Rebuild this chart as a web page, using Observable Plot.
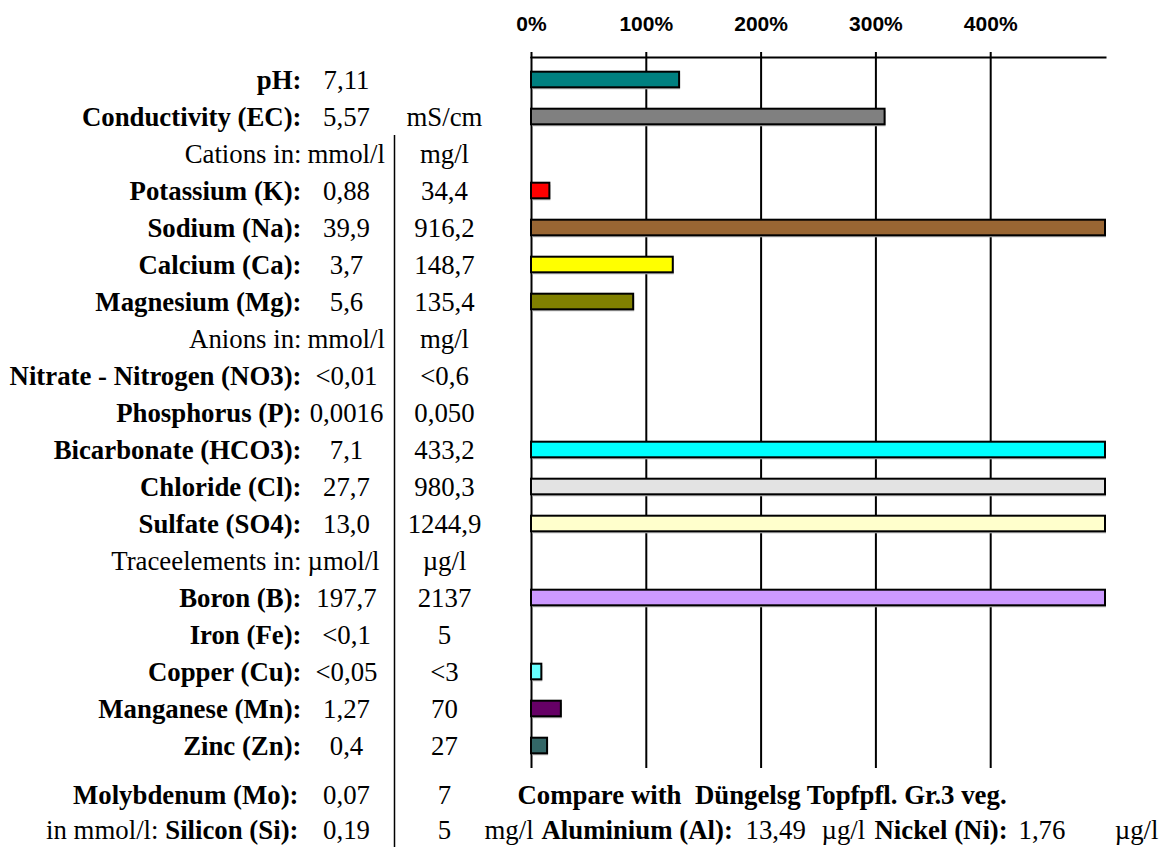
<!DOCTYPE html>
<html>
<head>
<meta charset="utf-8">
<script src="https://cdn.jsdelivr.net/npm/d3@7"></script>
<script src="https://cdn.jsdelivr.net/npm/@observablehq/plot@0.6"></script>
<style>
  html, body { margin: 0; padding: 0; background: #fff; }
  #chart svg { display: block; }
</style>
</head>
<body>
<div id="chart"></div>
<script>
// ---- data ----
const labels = ["pH:", "Conductivity (EC):", "Cations in:", "Potassium (K):", "Sodium (Na):", "Calcium (Ca):", "Magnesium (Mg):", "Anions in:", "Nitrate - Nitrogen (NO3):", "Phosphorus (P):", "Bicarbonate (HCO3):", "Chloride (Cl):", "Sulfate (SO4):", "Traceelements in:", "Boron (B):", "Iron (Fe):", "Copper (Cu):", "Manganese (Mn):", "Zinc (Zn):"];
const isHeader = [false, false, true, false, false, false, false, true, false, false, false, false, false, true, false, false, false, false, false];
const molarValues = ["7,11", "5,57", "mmol/l", "0,88", "39,9", "3,7", "5,6", "mmol/l", "<0,01", "0,0016", "7,1", "27,7", "13,0", "µmol/l", "197,7", "<0,1", "<0,05", "1,27", "0,4"];
const massValues = ["", "mS/cm", "mg/l", "34,4", "916,2", "148,7", "135,4", "mg/l", "<0,6", "0,050", "433,2", "980,3", "1244,9", "µg/l", "2137", "5", "<3", "70", "27"];
// percent of the reference solution (bars beyond the axis end are shown at 500 %)
const percentOfTarget = [129, 308, null, 16, 500, 123.5, 89, null, null, null, 500, 500, 500, null, 500, null, 9, 26, 14];
const barColors = ["#008080", "#808080", null, "#FF0000", "#996633", "#FFFF00", "#808000", null, null, null, "#00FFFF", "#E3E3E3", "#FFFFCC", null, "#CC99FF", null, "#66FFFF", "#660066", "#336666"];
const tickValues = [0, 100, 200, 300, 400];

const footRow1 = {label: "Molybdenum (Mo):", molar: "0,07", mass: "7", note: "Compare with  Düngelsg Topfpfl. Gr.3 veg."};
const footRow2 = {prefix: "in mmol/l:", label: "Silicon (Si):", molar: "0,19", mass: "5", unit: "mg/l",
                  alLabel: "Aluminium (Al):", alValue: "13,49", alUnit: "µg/l",
                  niLabel: "Nickel (Ni):", niValue: "1,76", niUnit: "µg/l"};

// ---- build table ----
const rows = labels.map((label, i) => ({
  label, header: isHeader[i], molar: molarValues[i], mass: massValues[i],
  pct: percentOfTarget[i], color: barColors[i]
}));

const serif = "'Liberation Serif', 'Times New Roman', Times, serif";
const sans = "'Liberation Sans', Arial, Helvetica, sans-serif";
const FS = 26.8;

const items = rows.filter(d => !d.header);
const headers = rows.filter(d => d.header);
const bars = rows.filter(d => d.pct != null);

const txt = (data, o) => Plot.text(data, {fontFamily: serif, fontSize: FS, fill: "black", ...o});
const foot = (text, o) => Plot.text([text], {text: d => d, frameAnchor: "bottom-left", fontFamily: serif, fontSize: FS, fill: "black", ...o});

const chart = Plot.plot({
  width: 1160,
  height: 850,
  marginLeft: 531,
  marginRight: 55,
  marginTop: 57,
  marginBottom: 82,
  x: {domain: [0, 500], axis: null},
  y: {domain: labels, axis: null, padding: 0},
  color: {type: "identity"},
  style: {background: "white", overflow: "visible"},
  marks: [
    // grid
    Plot.ruleX(tickValues, {stroke: "black", strokeWidth: 2}),
    Plot.frame({anchor: "top", stroke: "black", strokeWidth: 2}),
    Plot.axisX(tickValues, {anchor: "top", tickSize: 6, tickPadding: 21, strokeWidth: 2,
      tickFormat: d => d + "%", fontSize: 21, fontWeight: "bold", fontFamily: sans, label: null}),
    // bar shadows and bars
    Plot.barX(bars, {x: "pct", y: "label", fill: "#b8b8b8", dx: 1, dy: 2,
      insetTop: 10.7, insetBottom: 10.7}),
    Plot.barX(bars, {x: "pct", y: "label", fill: "color", stroke: "black", strokeWidth: 2,
      insetTop: 10.7, insetBottom: 10.7}),
    // column separator
    Plot.ruleX([0], {y1: () => "Cations in:", y2: () => "Zinc (Zn):", dx: -137, insetBottom: -83,
      stroke: "black", strokeWidth: 1.5}),
    // row labels
    txt(items, {y: "label", text: "label", frameAnchor: "left", dx: -230, textAnchor: "end", fontWeight: "bold"}),
    txt(headers, {y: "label", text: "label", frameAnchor: "left", dx: -230, textAnchor: "end"}),
    // values
    txt(items, {y: "label", text: "molar", frameAnchor: "left", dx: -185, textAnchor: "middle"}),
    txt(headers, {y: "label", text: "molar", frameAnchor: "left", dx: -224, textAnchor: "start"}),
    txt(rows, {y: "label", text: "mass", frameAnchor: "left", dx: -87, textAnchor: "middle"}),
    // footer row 1
    foot(footRow1.label, {dx: -233, dy: 35, textAnchor: "end", fontWeight: "bold"}),
    foot(footRow1.molar, {dx: -185, dy: 35, textAnchor: "middle"}),
    foot(footRow1.mass, {dx: -87, dy: 35, textAnchor: "middle"}),
    foot(footRow1.note, {dx: -14, dy: 35, textAnchor: "start", fontWeight: "bold"}),
    // footer row 2
    foot(footRow2.prefix, {dx: -373, dy: 70, textAnchor: "end"}),
    foot(footRow2.label, {dx: -233, dy: 70, textAnchor: "end", fontWeight: "bold"}),
    foot(footRow2.molar, {dx: -185, dy: 70, textAnchor: "middle"}),
    foot(footRow2.mass, {dx: -87, dy: 70, textAnchor: "middle"}),
    foot(footRow2.unit, {dx: -47, dy: 70, textAnchor: "start"}),
    foot(footRow2.alLabel, {dx: 10, dy: 70, textAnchor: "start", fontWeight: "bold"}),
    foot(footRow2.alValue, {dx: 214, dy: 70, textAnchor: "start"}),
    foot(footRow2.alUnit, {dx: 290, dy: 70, textAnchor: "start"}),
    foot(footRow2.niLabel, {dx: 343, dy: 70, textAnchor: "start", fontWeight: "bold"}),
    foot(footRow2.niValue, {dx: 487, dy: 70, textAnchor: "start"}),
    foot(footRow2.niUnit, {dx: 627, dy: 70, textAnchor: "end"})
  ]
});
document.getElementById("chart").appendChild(chart);
</script>
</body>
</html>
